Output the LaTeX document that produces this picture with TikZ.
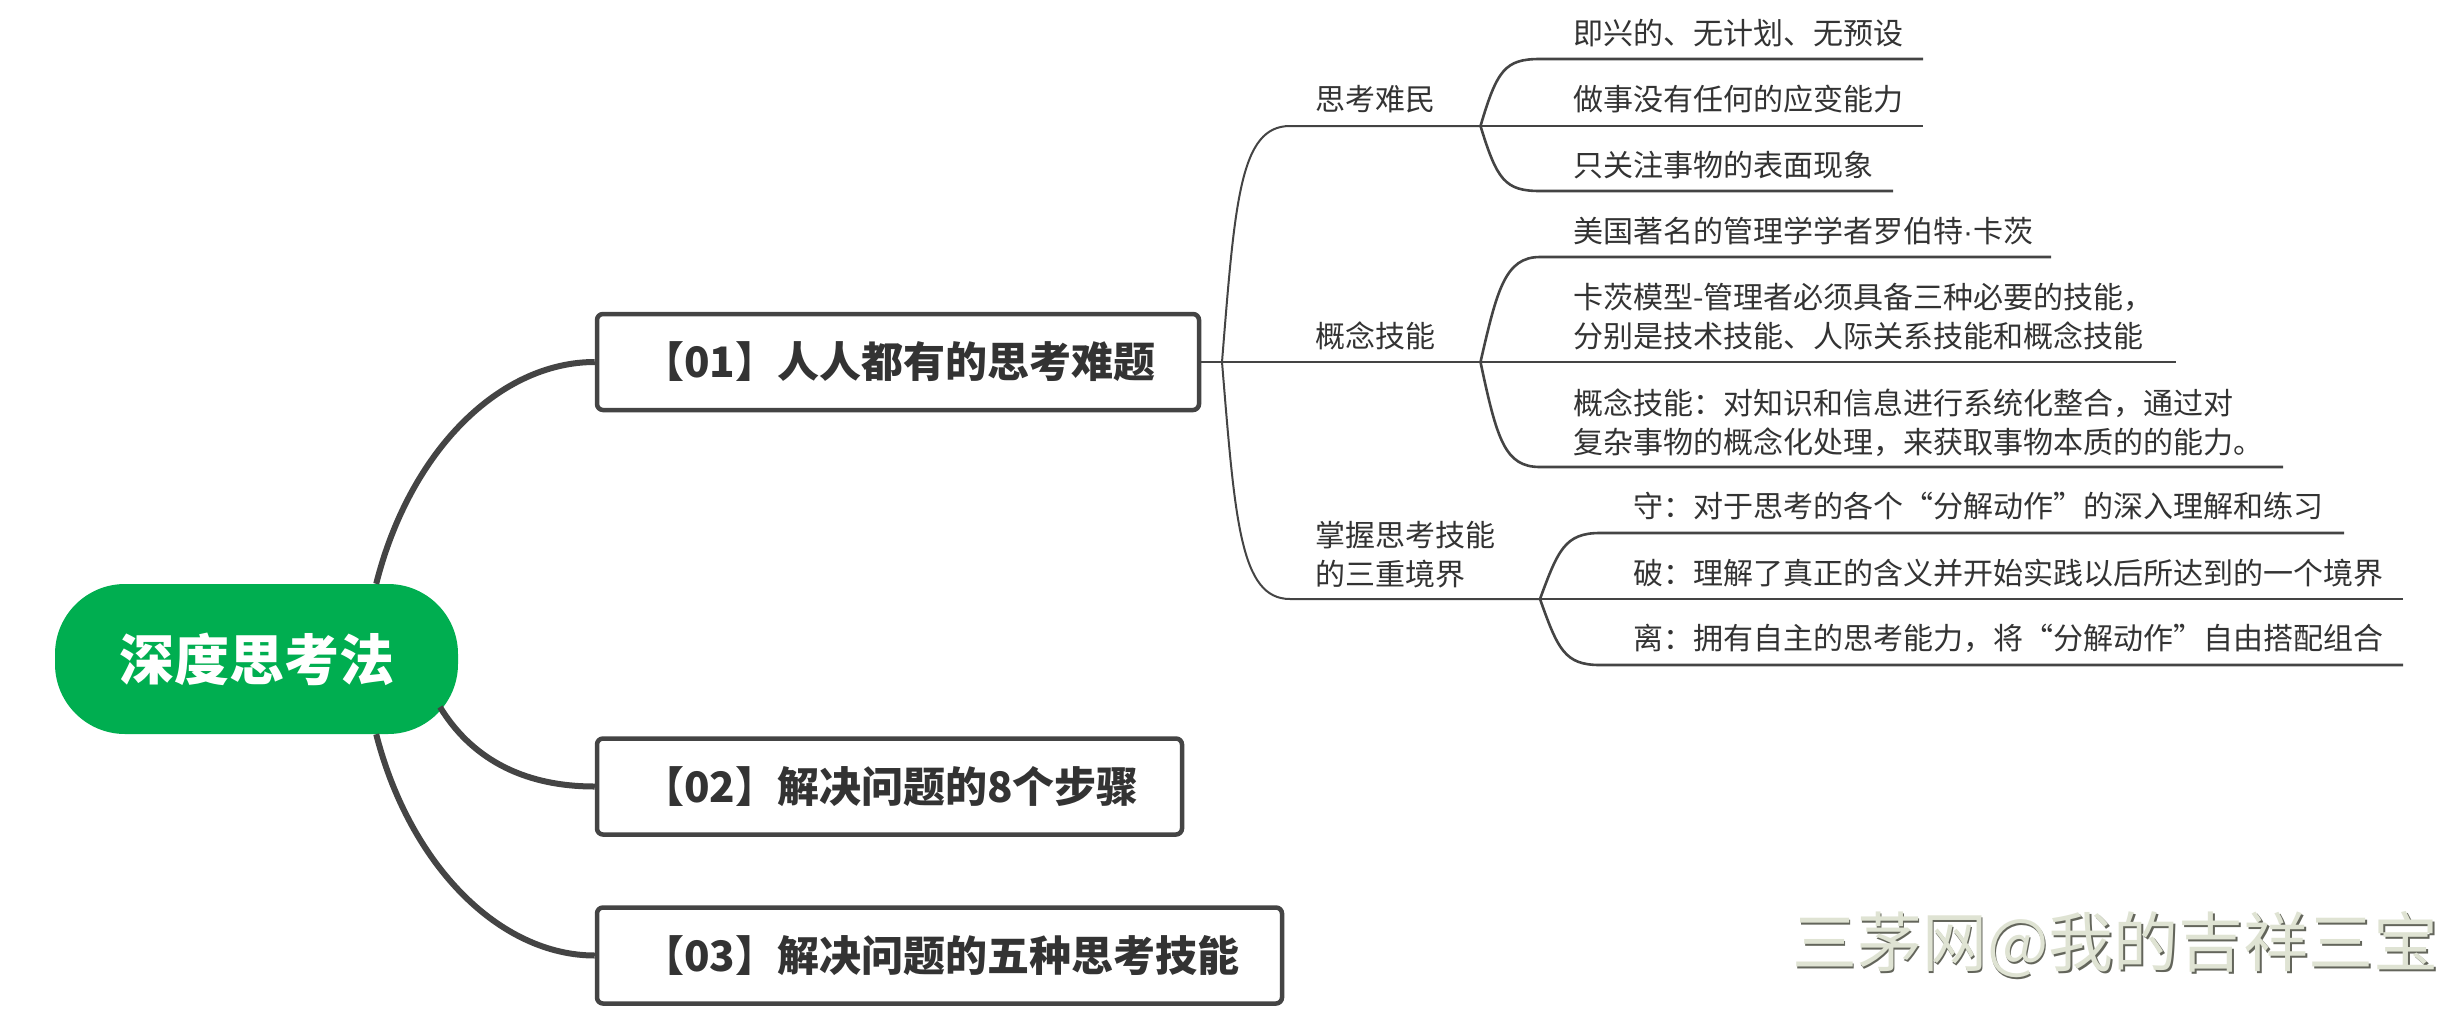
\documentclass[tikz,border=0pt]{standalone}
\usepackage{fontspec}
\setmainfont{Noto Sans CJK SC}
\newfontfamily\dotfont{Liberation Sans}
\definecolor{ink}{HTML}{333333}
\definecolor{edge}{HTML}{444444}
\definecolor{rootgreen}{HTML}{00AE50}
\definecolor{markfill}{HTML}{DFE3D3}
\definecolor{markedge}{HTML}{63655B}
\tikzset{
  x=1pt,y=-1pt,
  rootnode/.style={fill=rootgreen,rounded corners=70pt,minimum width=403pt,minimum height=150pt,inner sep=0pt,text=white,font=\fontsize{55}{60}\selectfont\bfseries},
  mainbox/.style={draw=edge,line width=4.5pt,fill=white,rounded corners=6pt,minimum height=96pt,inner sep=0pt},
  boxtext/.style={anchor=west,inner sep=0pt,text=ink,font=\fontsize{42}{50}\selectfont\bfseries},
  lbl/.style={anchor=west,inner sep=0pt,text=ink,align=left,font=\fontsize{30}{39}\selectfont},
  mainline/.style={draw=edge,line width=6pt},
  thin/.style={draw=edge,line width=2pt},
  leafline/.style={draw=edge,line width=2.6pt},
  markshadow/.style={anchor=west,inner sep=0pt,text=markedge,font=\fontsize{65}{70}\selectfont},
  marktext/.style={anchor=west,inner sep=0pt,text=markfill,font=\fontsize{65}{70}\selectfont},
}
\begin{document}
\begin{tikzpicture}
\useasboundingbox (0,0) rectangle (2439,1031);
\node[rootnode] (root) at (256.5,659) {深度思考法};
\node[mainbox,minimum width=602pt] (b1) at (898,362) {};
\node[mainbox,minimum width=585pt] (b2) at (889.5,786.5) {};
\node[mainbox,minimum width=685pt] (b3) at (939.5,955.5) {};
\node[boxtext] (t01) at (642,362) {【01】人人都有的思考难题};
\node[boxtext] (t02) at (642,786.5) {【02】解决问题的8个步骤};
\node[boxtext] (t03) at (642,955.5) {【03】解决问题的五种思考技能};

\coordinate (r2) at (440,707);
\draw[mainline] ([xshift=-82pt]root.north east) .. controls (410,450) and (500,362) .. (b1.west);
\draw[mainline] (r2) .. controls (470,756) and (520,786.5) .. (b2.west);
\draw[mainline] ([xshift=-82pt]root.south east) .. controls (410,866) and (500,955.5) .. (b3.west);

% second level
\coordinate (t1) at (1222,362);
\coordinate (f1) at (1480.5,126);
\coordinate (f2) at (1480.5,362);
\coordinate (f3) at (1540,599);
\draw[thin] (b1.east) -- (t1);
\draw[thin] (t1) .. controls (1235,200) and (1240,126) .. (1290,126) -- (f1);
\draw[thin] (t1) -- (f2);
\draw[thin] (t1) .. controls (1235,520) and (1240,599) .. (1290,599) -- (f3);

\coordinate (e1) at (1923,59);
\coordinate (e2) at (1923,126);
\coordinate (e3) at (1893,191);
\coordinate (e4) at (2051,257);
\coordinate (e5) at (2176,362);
\coordinate (e6) at (2283,467);
\coordinate (e7) at (2344,533);
\coordinate (e8) at (2403,599);
\coordinate (e9) at (2403,665);
\draw[leafline] (f1) .. controls (1497,70) and (1505,59) .. (1540,59) -- (e1);
\draw[leafline] (f1) -- (e2);
\draw[leafline] (f1) .. controls (1497,180) and (1505,191) .. (1540,191) -- (e3);
\draw[leafline] (f2) .. controls (1497,290) and (1505,257) .. (1540,257) -- (e4);
\draw[leafline] (f2) -- (e5);
\draw[leafline] (f2) .. controls (1497,440) and (1505,467) .. (1540,467) -- (e6);
\draw[leafline] (f3) .. controls (1558,550) and (1565,533) .. (1600,533) -- (e7);
\draw[leafline] (f3) -- (e8);
\draw[leafline] (f3) .. controls (1558,650) and (1565,665) .. (1600,665) -- (e9);

\node[lbl] (s1) at (1315,99) {思考难民};
\node[lbl] (s2) at (1315,336) {概念技能};
\node[lbl] (s3) at (1315,554.5) {掌握思考技能\\的三重境界};
\node[lbl] (l1) at (1573,33) {即兴的、无计划、无预设};
\node[lbl] (l2) at (1573,99) {做事没有任何的应变能力};
\node[lbl] (l3) at (1573,165) {只关注事物的表面现象};
\node[lbl] (l4) at (1573,231) {美国著名的管理学学者罗伯特{\dotfont ·}卡茨};
\node[lbl] (l5) at (1573,316.5) {卡茨模型-管理者必须具备三种必要的技能，\\分别是技术技能、人际关系技能和概念技能};
\node[lbl] (l6) at (1573,422.5) {概念技能：对知识和信息进行系统化整合，通过对\\复杂事物的概念化处理，来获取事物本质的的能力。};
\node[lbl] (l7) at (1633,506) {守：对于思考的各个“分解动作”的深入理解和练习};
\node[lbl] (l8) at (1633,573) {破：理解了真正的含义并开始实践以后所达到的一个境界};
\node[lbl] (l9) at (1633,638) {离：拥有自主的思考能力，将“分解动作”自由搭配组合};

\node[markshadow] (wm2) at (1793.5,946.5) {三茅网@我的吉祥三宝};
\node[marktext] (wm) at (1792,945) {三茅网@我的吉祥三宝};
\end{tikzpicture}
\end{document}
